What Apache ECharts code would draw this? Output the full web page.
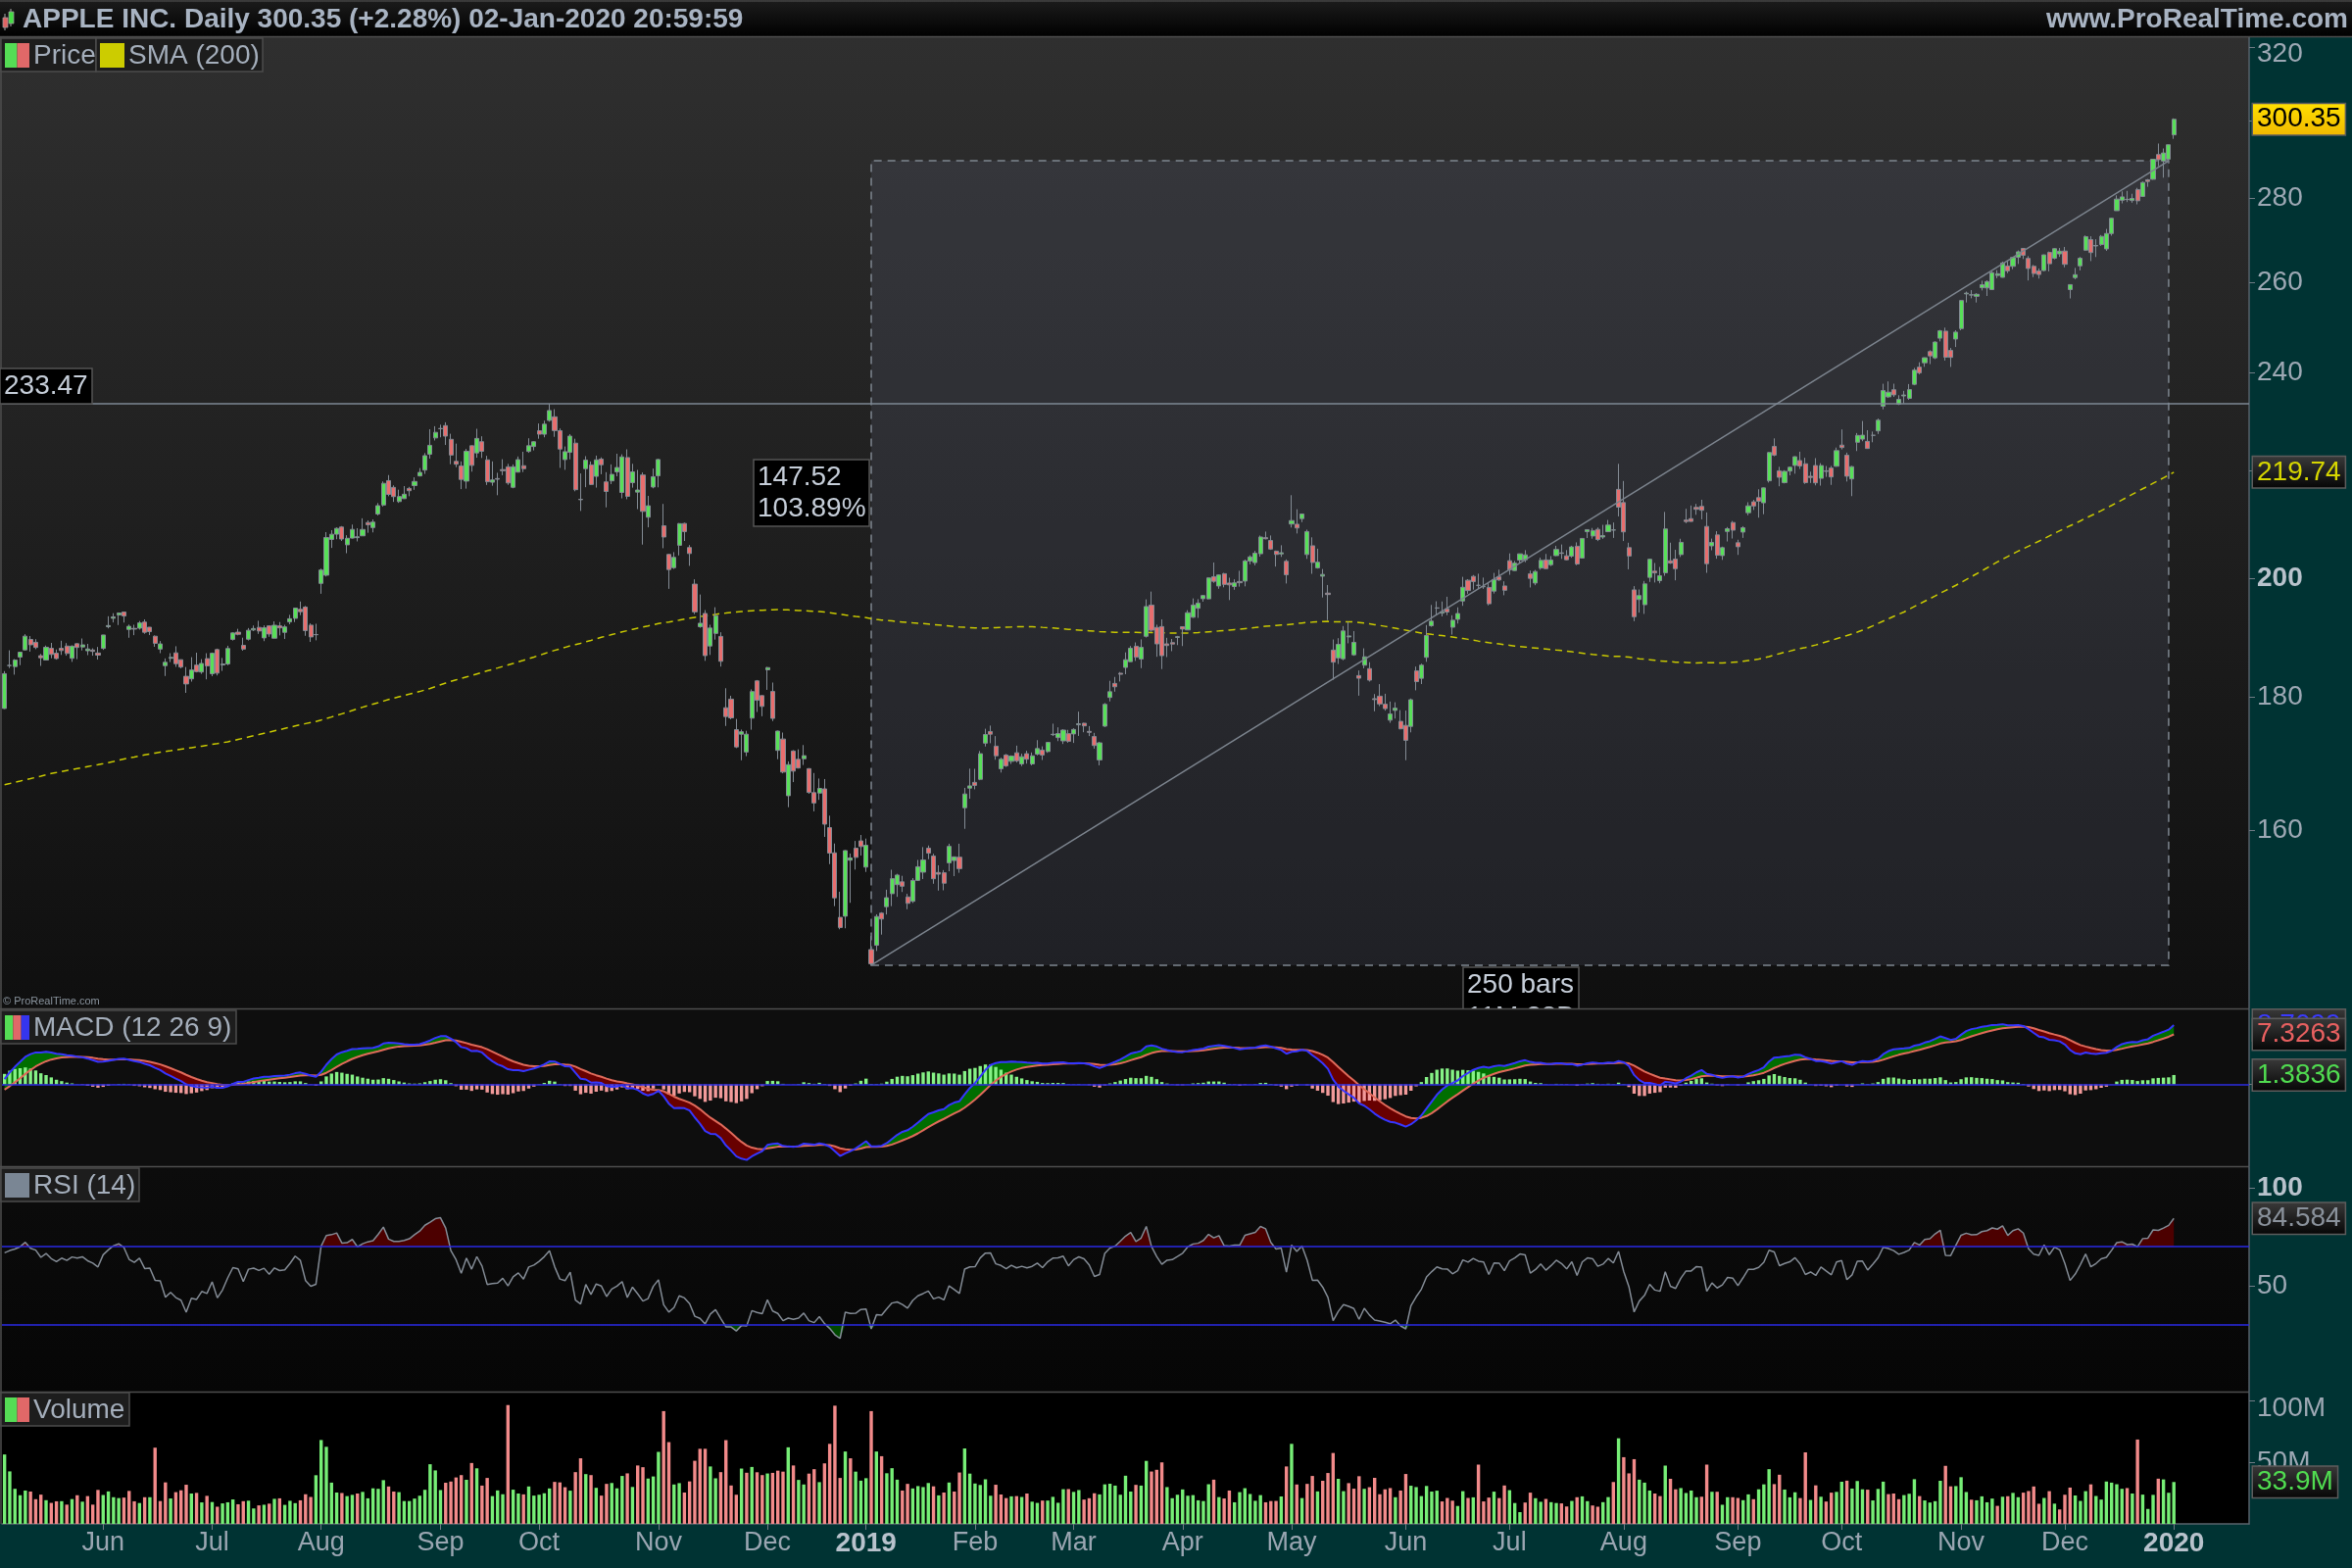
<!DOCTYPE html>
<html><head><meta charset="utf-8">
<script src="https://cdn.jsdelivr.net/npm/echarts@6/dist/echarts.min.js"></script>
<style>html,body{margin:0;padding:0;background:#003333;}#c{width:2400px;height:1600px;}</style>
</head><body><div id="c"></div>
<script>
// ---- closes before the visible window (20-Jul-2017 .. 03-May-2018), used to warm up SMA/MACD/RSI
const preClose = [
150.34,150.27,152.09,152.74,153.46,150.56,149.50,148.73,
150.05,157.14,155.57,156.39,158.81,160.08,161.06,155.32,157.48,159.85,161.60,160.95,157.86,157.50,157.21,159.78,159.98,159.27,159.86,161.47,162.91,163.35,164.00,
164.05,162.08,161.91,161.26,158.63,161.50,160.86,159.65,158.28,159.88,158.67,158.73,156.07,153.39,151.89,150.55,153.14,154.23,153.28,154.12,
153.81,154.48,153.48,155.39,155.30,155.84,155.90,156.55,156.00,156.99,159.88,160.47,159.76,155.98,156.25,156.17,157.10,156.41,157.41,163.05,166.72,169.04,
166.89,168.11,172.50,174.25,174.81,176.24,175.88,174.67,173.97,171.34,169.08,171.10,170.15,169.98,173.14,174.96,174.97,174.09,173.07,169.48,171.85,
171.05,169.80,169.64,169.01,169.32,169.37,172.67,171.70,172.27,172.22,173.97,176.42,174.54,174.35,175.01,175.01,170.57,170.60,171.08,169.23,
172.26,172.23,173.03,175.00,174.35,174.33,174.29,175.28,177.09,176.19,179.10,179.26,178.46,177.00,177.04,174.22,171.11,171.51,167.96,166.97,167.43,
167.78,160.50,156.49,163.03,159.54,155.15,156.41,162.71,164.34,167.37,172.99,172.43,171.85,171.07,172.50,175.50,178.97,178.39,178.12,
175.00,176.21,176.82,176.67,175.03,176.94,179.98,181.72,179.97,178.44,178.65,178.02,175.30,175.24,171.27,168.85,164.94,172.77,168.34,166.48,167.78,
166.68,168.39,171.61,172.80,168.38,170.05,173.25,172.44,174.14,174.73,175.82,178.24,177.84,172.80,165.72,165.24,162.94,163.65,164.22,162.32,165.26,
169.10,176.57,176.89
];
// ---- visible daily bars 04-May-2018 .. 02-Jan-2020
const openPx = [
178.25,185.18,184.99,186.55,187.74,189.49,189.01,186.78,186.07,188.00,187.19,188.00,188.38,186.35,188.77,188.23,187.60,187.72,187.22,
187.99,191.64,193.07,193.63,194.14,191.17,191.35,191.39,192.42,191.55,190.03,187.88,185.14,186.35,187.25,186.12,183.40,182.99,185.23,184.10,186.29,
183.82,187.79,185.26,185.42,189.50,190.71,188.50,189.53,191.08,191.52,189.75,191.78,189.69,191.78,190.68,192.45,193.06,194.61,194.99,191.90,190.30,
199.13,200.58,207.03,208.00,209.32,206.05,207.28,207.36,207.70,210.16,209.22,211.75,213.44,218.10,216.80,214.10,214.65,216.60,217.15,219.01,220.15,223.25,226.51,
228.41,228.99,226.23,221.85,220.95,218.01,224.94,223.52,225.75,222.15,217.79,218.50,220.24,220.78,216.82,219.75,221.00,223.82,224.79,
227.95,227.25,230.05,230.78,227.96,222.21,223.64,225.46,214.52,220.42,221.16,218.93,222.30,217.86,218.06,219.79,215.83,222.60,217.71,215.90,219.19,211.15,216.88,
219.05,209.55,204.30,201.92,205.97,209.98,205.55,199.00,191.63,193.90,188.39,190.50,190.00,178.37,179.73,174.94,174.24,171.51,176.73,182.66,180.29,
184.46,180.95,171.76,173.49,165.00,171.66,170.40,170.49,169.00,165.45,165.38,166.00,160.40,156.86,148.15,148.30,155.84,157.50,158.53,
154.89,143.98,144.53,148.70,149.56,151.29,152.50,152.88,150.85,150.27,153.08,154.20,157.50,156.41,154.15,154.11,155.48,155.79,156.25,163.25,166.11,
166.96,167.41,172.86,174.65,172.40,168.99,171.05,170.10,171.39,169.71,171.25,169.71,171.19,171.80,171.58,174.16,173.71,173.21,174.32,
174.28,175.69,175.94,174.67,173.87,170.32,175.49,180.00,182.25,183.90,184.85,185.80,188.35,186.23,190.02,195.34,191.51,191.66,188.75,188.95,189.83,
191.64,191.09,193.25,194.79,196.45,196.42,200.32,198.68,200.85,199.20,198.58,199.46,199.54,203.12,202.83,204.43,207.36,206.83,204.90,204.40,203.06,
209.88,209.84,210.89,204.29,205.88,201.90,200.40,197.42,187.71,186.41,186.27,189.91,186.93,183.52,185.22,184.66,179.80,180.20,178.92,176.42,177.95,176.23,
175.60,175.44,184.28,183.08,186.51,191.81,194.86,193.95,194.70,191.55,192.90,196.05,199.68,200.37,198.80,198.54,198.43,197.77,200.29,198.68,
203.17,201.41,203.28,203.35,200.81,199.20,201.85,203.31,202.45,204.09,204.59,204.05,204.00,205.79,203.65,208.46,207.67,208.89,207.48,208.46,208.76,216.42,
213.90,205.53,197.99,196.31,195.41,200.20,201.30,199.62,201.02,203.16,203.46,204.28,210.62,210.88,212.99,213.19,209.43,205.86,207.86,204.10,208.50,210.16,
206.43,208.39,212.00,214.05,214.84,213.86,218.07,224.80,220.00,217.73,219.96,221.06,222.01,221.38,218.95,221.03,218.55,220.00,220.54,220.90,
225.07,223.06,218.43,225.64,226.27,225.82,227.03,227.93,232.95,234.90,236.39,233.37,235.09,234.59,237.52,241.16,242.10,244.51,243.16,247.42,248.97,244.76,247.24,
249.54,257.33,257.05,256.77,258.74,258.69,258.30,261.55,261.13,263.75,263.68,265.80,267.90,265.54,263.69,262.59,262.71,266.94,265.58,266.60,
267.27,258.31,261.07,263.79,267.48,270.00,268.60,268.81,267.78,271.46,277.00,279.57,279.80,279.50,282.23,280.53,284.69,284.82,291.12,289.46,289.93,
296.24
];
const highPx = [
184.25,187.67,186.22,187.40,190.37,190.06,189.53,187.07,188.46,188.91,187.81,189.27,188.88,188.50,188.84,189.65,188.75,188.00,188.23,
190.26,193.42,193.94,194.08,194.20,192.00,191.97,192.61,192.88,191.57,190.16,189.22,186.33,187.20,188.35,186.15,184.92,186.53,187.28,186.21,187.19,
187.30,187.95,186.41,188.43,190.68,191.28,189.78,191.41,191.84,192.65,191.87,191.80,192.55,192.43,191.96,193.66,194.85,195.96,195.19,192.20,192.14,
201.76,208.38,208.74,209.25,209.50,207.81,209.78,209.10,210.95,210.56,210.74,213.81,217.95,219.18,217.19,216.36,217.05,216.90,218.74,220.54,223.49,228.26,228.87,
229.18,229.67,227.35,225.37,221.85,224.30,225.00,228.35,226.84,222.95,221.85,219.62,222.28,221.36,221.26,222.82,223.75,226.44,225.84,
229.42,230.00,233.47,232.35,228.41,224.80,227.27,226.35,219.50,222.88,221.83,222.99,222.64,219.74,221.26,223.36,223.25,224.23,221.38,220.19,219.69,215.18,220.45,
222.36,213.65,204.39,204.72,210.06,210.12,206.01,199.85,197.18,194.48,191.97,194.97,190.70,181.47,180.27,176.60,174.95,174.77,181.29,182.80,180.33,
184.94,182.39,174.78,174.49,170.09,171.79,171.92,172.57,169.08,168.35,167.53,167.45,162.11,158.16,151.55,157.23,156.77,158.52,159.36,
158.85,145.72,148.55,148.83,151.82,154.53,153.97,153.70,151.27,153.39,155.88,157.66,157.88,156.73,155.14,154.48,158.13,156.33,158.13,166.15,169.00,
168.98,171.66,175.08,175.57,173.94,170.66,171.21,171.00,172.48,171.26,171.70,171.44,173.32,172.37,173.00,175.87,175.30,175.00,174.91,
175.15,177.75,176.00,175.49,174.44,173.07,179.12,182.67,183.30,184.10,187.33,188.39,188.99,189.49,196.33,197.69,191.98,192.88,189.76,189.56,190.08,
191.68,194.46,196.50,196.37,197.10,200.23,202.85,200.74,201.00,200.14,199.85,201.37,203.38,204.15,204.94,207.75,208.48,207.76,205.00,205.97,203.40,
215.31,212.65,211.84,208.84,207.42,205.34,201.68,198.85,189.48,189.70,191.75,192.47,190.90,184.35,188.00,185.71,180.54,182.14,180.59,179.35,179.23,177.99,
177.92,179.83,184.99,185.47,191.92,195.37,196.00,195.97,196.79,193.59,194.96,200.29,199.88,200.61,200.85,200.16,199.26,200.99,201.57,199.50,
204.49,203.13,204.44,205.08,201.40,201.51,203.73,204.39,204.00,205.87,206.11,205.09,205.88,206.50,207.23,208.91,209.15,209.24,209.73,210.64,210.16,221.37,
218.03,206.43,198.65,198.07,199.56,203.53,202.76,202.05,212.14,206.44,205.14,207.16,212.73,213.35,213.65,214.44,212.05,207.19,208.55,205.72,209.32,210.45,
206.98,209.48,213.97,214.42,216.44,216.78,223.71,226.42,220.79,220.13,220.82,222.85,223.76,222.56,219.84,222.49,221.50,220.94,220.96,224.58,
228.22,223.58,220.96,227.49,229.93,228.06,227.79,230.44,237.64,238.13,237.65,235.24,236.15,237.58,240.99,242.20,243.24,244.80,246.73,249.25,249.75,245.30,249.17,
255.93,257.85,258.19,257.49,260.35,260.44,262.47,262.79,264.78,264.88,265.78,267.43,268.00,266.08,264.01,263.18,266.44,267.16,267.98,268.00,
268.25,259.53,263.31,265.89,271.00,270.80,270.07,271.10,272.56,275.30,280.79,281.77,281.90,281.18,282.65,284.25,284.89,289.98,293.97,292.69,293.68,
300.60
];
const lowPx = [
178.17,184.75,183.67,185.22,187.65,187.45,187.86,185.10,186.00,186.36,186.13,186.91,186.78,185.76,186.21,187.65,186.87,186.78,186.14,
187.75,191.35,192.36,191.92,192.34,189.77,190.21,191.15,190.44,190.22,188.26,187.20,183.45,185.73,184.94,184.70,180.73,182.54,184.03,183.80,182.91,
183.42,183.54,184.28,185.20,189.30,190.18,187.61,189.31,190.90,190.42,189.20,189.93,189.69,190.17,189.56,192.05,192.43,193.61,190.10,189.07,189.34,
197.31,200.35,205.48,207.07,206.76,204.52,207.20,206.67,207.70,208.26,208.33,211.47,213.16,215.11,214.03,213.84,214.60,215.11,216.33,218.92,219.41,222.40,226.00,
226.63,225.10,221.30,220.71,216.47,216.56,219.84,222.57,222.52,217.27,217.12,215.30,219.15,217.29,216.63,219.70,219.76,223.54,224.02,
226.35,226.63,229.78,226.73,220.58,220.20,222.25,216.05,212.32,216.84,217.27,216.76,219.34,213.00,217.43,218.94,214.70,214.54,216.75,212.67,206.09,209.27,216.62,
216.81,205.43,198.17,201.69,204.13,206.75,202.25,193.79,191.45,185.93,186.90,189.46,184.99,175.51,176.55,172.10,170.26,170.88,174.93,177.70,177.03,
181.21,176.27,170.42,168.30,163.33,167.00,169.02,169.55,165.28,162.73,164.39,159.09,155.30,149.63,146.59,146.72,150.07,154.55,156.48,
154.23,142.00,143.80,145.90,148.52,149.63,150.86,151.51,149.22,150.05,153.00,153.26,155.98,152.62,151.70,151.74,154.32,153.66,154.11,160.23,164.56,
165.93,167.28,172.35,172.85,170.34,168.42,169.25,169.70,169.92,169.38,169.75,169.49,170.99,170.30,171.38,173.95,173.17,172.73,172.92,
172.89,173.97,174.54,173.94,172.02,169.50,175.35,179.37,180.92,182.56,183.74,185.79,185.92,184.73,189.81,190.78,186.60,184.58,186.55,187.53,188.54,
188.38,191.05,193.15,193.14,195.93,196.34,199.23,198.18,198.44,196.21,198.01,198.56,198.61,202.52,202.34,203.90,207.05,205.12,202.12,203.86,199.11,
209.23,208.13,210.23,203.50,200.83,201.75,196.66,192.77,182.85,185.41,186.02,188.84,186.76,180.28,184.70,182.55,177.81,178.62,177.91,176.00,176.67,174.99,
170.27,174.52,181.14,182.15,185.77,191.62,193.60,193.39,193.60,190.30,192.17,195.21,197.31,198.03,198.15,198.17,195.29,197.35,199.57,197.05,
200.65,201.36,202.69,202.90,198.41,198.81,201.56,201.71,202.20,204.00,203.50,203.27,203.70,202.36,203.61,207.29,207.17,206.73,207.14,208.44,207.31,211.30,
206.74,201.63,192.58,194.04,193.82,199.39,199.29,199.15,200.48,202.59,199.67,203.84,210.03,210.32,211.60,210.75,201.00,205.06,203.53,203.32,206.66,207.20,
204.22,207.32,211.51,212.51,211.07,211.71,217.73,222.86,217.02,217.56,219.12,219.44,220.37,217.47,217.65,217.19,217.14,218.83,217.28,220.79,
224.20,217.93,215.13,223.89,225.84,224.33,225.64,227.30,232.31,234.67,234.88,233.20,233.52,234.29,237.32,239.62,241.22,241.81,242.88,246.72,242.57,241.21,245.50,
249.16,255.38,256.32,255.37,258.11,256.85,258.28,260.92,261.07,262.10,263.01,264.23,265.39,260.40,261.18,260.84,262.52,262.50,265.31,265.90,
263.45,256.29,260.68,262.73,267.30,264.91,265.86,268.50,267.32,270.93,276.98,278.80,279.12,278.95,278.56,280.37,282.92,284.70,288.12,285.22,289.52,
295.19
];
const closePx = [
183.83,185.16,186.05,187.36,190.04,188.59,188.15,186.44,188.18,186.99,186.31,187.63,187.16,188.36,188.15,188.58,187.90,187.50,186.87,
190.24,191.83,193.31,193.98,193.46,191.70,191.23,192.28,190.70,190.80,188.84,188.74,185.69,186.50,185.46,184.92,182.17,184.43,184.16,185.50,185.11,
187.18,183.92,185.40,187.97,190.58,190.35,187.88,191.03,191.33,190.91,191.45,190.40,191.88,191.44,191.61,193.00,194.82,194.21,190.98,189.91,190.29,
201.50,207.39,207.99,209.07,207.11,207.25,208.88,207.53,208.87,209.75,210.24,213.32,217.58,215.46,215.04,215.05,215.49,216.16,217.94,219.70,222.98,225.03,227.63,
228.36,226.87,223.10,221.30,218.33,223.85,221.07,226.41,223.84,217.88,218.24,218.37,220.03,217.66,220.79,222.19,220.42,224.95,225.74,
227.26,229.28,232.07,227.99,224.29,223.77,226.87,216.36,214.45,222.11,217.36,222.15,221.19,216.02,219.31,220.65,222.73,215.09,219.80,216.30,212.24,213.30,218.86,
222.22,207.48,201.59,203.77,209.95,208.49,204.47,194.17,192.23,186.80,191.41,193.53,185.86,176.98,176.78,172.29,174.62,174.24,180.94,179.55,178.58,
184.82,176.69,174.72,168.49,169.60,168.63,169.10,170.95,165.48,163.94,166.07,160.89,156.83,150.73,146.83,157.17,156.15,156.23,157.74,
157.92,142.19,148.26,147.93,150.75,153.31,153.80,152.29,150.00,153.07,154.94,155.86,156.82,153.30,153.92,152.70,157.76,156.30,154.68,165.25,166.44,
166.52,171.25,174.18,174.24,170.94,170.41,169.43,170.89,170.18,170.80,170.42,170.93,172.03,171.06,172.97,174.23,174.33,174.87,173.15,
174.97,175.85,175.53,174.52,172.50,172.91,178.90,180.91,181.71,183.73,186.12,188.02,186.53,188.16,195.09,191.05,188.74,186.79,188.47,188.72,189.95,
191.24,194.02,195.35,195.69,197.00,200.10,199.50,200.62,198.95,198.87,199.23,199.25,203.13,203.86,204.53,207.48,207.16,205.28,204.30,204.61,200.67,
210.52,209.15,211.75,208.48,202.86,202.90,200.72,197.18,185.72,188.66,190.92,190.08,189.00,183.09,186.60,182.78,179.66,178.97,178.23,177.38,178.30,175.07,
173.30,179.64,182.54,185.22,190.15,192.58,194.81,194.19,194.15,192.74,193.89,198.45,197.87,199.46,198.78,198.58,195.57,199.80,199.74,197.92,
201.55,202.73,204.41,204.23,200.02,201.24,203.23,201.75,203.30,205.21,204.50,203.35,205.66,202.59,207.22,208.84,208.67,207.02,207.74,209.68,208.78,213.04,
208.43,204.02,193.34,197.00,199.04,203.43,200.99,200.48,208.97,202.75,201.74,206.50,210.35,210.36,212.64,212.46,202.64,206.49,204.16,205.53,209.01,208.74,
205.70,209.19,213.28,213.26,214.17,216.70,223.59,223.09,218.75,219.90,220.70,222.77,220.96,217.73,218.72,217.68,221.03,219.89,218.82,223.97,
224.59,218.96,220.82,227.01,227.06,224.40,227.03,230.09,236.21,235.87,235.32,234.37,235.28,236.41,240.51,239.96,243.18,243.58,246.58,249.05,243.29,243.26,248.76,
255.82,257.50,257.13,257.24,259.43,260.14,262.20,261.96,264.47,262.64,265.76,267.10,266.29,263.19,262.01,261.78,266.37,264.29,267.84,267.25,
264.16,259.45,261.74,265.58,270.71,266.92,268.48,270.77,271.46,275.15,279.86,280.41,279.74,280.02,279.44,284.00,284.27,289.91,289.80,291.52,293.65,
300.35
];
const volumeM = [
56.2,42.5,28.4,23.2,27.0,26.2,20.0,23.7,19.2,17.0,18.3,18.4,15.6,20.1,23.2,18.0,22.5,15.6,27.5,
23.4,26.3,21.6,20.9,21.3,26.7,18.3,16.9,21.6,21.6,61.7,18.5,33.6,20.6,25.7,27.2,31.7,24.6,25.1,17.4,22.7,
17.7,13.9,16.6,17.5,19.8,15.9,18.4,18.8,12.5,15.0,15.5,16.4,20.3,20.7,15.4,18.7,16.8,19.1,24.0,21.8,39.4,
67.9,62.4,33.4,25.4,25.0,22.5,23.5,24.6,25.9,20.7,28.8,28.4,35.4,30.3,26.2,25.7,18.5,18.5,20.5,22.8,27.6,48.3,43.3,
27.4,33.3,34.3,37.6,39.5,35.7,49.3,45.0,31.0,37.2,22.5,27.1,24.0,96.2,27.7,24.6,23.9,30.3,22.9,
23.6,24.8,28.7,34.0,33.6,29.7,26.9,41.9,53.1,40.3,39.5,29.2,22.9,32.4,33.1,28.8,38.8,40.9,29.9,47.3,45.9,36.7,38.4,
58.3,91.3,66.2,31.9,33.0,25.4,34.4,51.1,60.8,60.8,46.5,36.9,41.9,67.8,31.1,23.6,44.8,41.4,46.1,41.8,39.5,
40.8,41.3,43.1,42.3,62.0,47.3,35.6,31.9,40.7,44.3,33.8,49.0,64.8,95.7,37.2,58.6,53.1,42.3,35.0,
37.0,91.3,58.6,54.8,41.0,45.1,35.8,27.0,32.4,28.7,30.6,29.8,33.1,30.4,23.1,25.4,33.5,26.2,41.6,61.1,40.7,
32.7,31.5,36.1,22.8,31.7,23.8,20.9,22.3,22.5,21.8,24.6,18.0,17.0,18.9,18.9,21.9,17.1,28.1,28.2,
25.9,27.4,19.7,20.8,24.8,23.9,32.0,32.5,31.0,23.6,39.0,26.2,31.6,31.0,51.0,42.4,43.8,49.8,29.8,20.8,23.6,
27.9,22.8,23.3,19.1,18.5,32.1,35.8,21.7,20.6,27.0,17.5,25.7,28.9,24.2,18.7,23.3,17.5,18.5,18.6,22.2,46.5,
64.8,31.9,20.9,32.4,38.8,26.3,34.9,41.2,57.4,36.5,26.5,33.0,28.5,38.6,28.4,29.7,37.3,24.0,28.0,29.0,21.6,27.0,
40.4,30.9,29.8,22.5,30.7,26.2,26.9,18.2,21.0,18.8,14.5,26.5,21.0,21.5,48.0,18.2,21.3,26.1,20.9,31.1,
27.3,16.9,9.5,17.3,25.3,20.8,17.9,20.2,17.6,16.9,16.6,14.1,18.6,21.6,22.3,18.4,14.9,13.9,17.6,21.7,33.9,69.3,
54.0,40.9,52.4,35.8,33.4,27.0,24.6,22.5,47.2,36.5,28.0,29.0,25.0,27.0,21.6,22.0,48.0,26.0,26.0,15.5,21.6,21.6,
21.0,19.2,23.9,20.0,28.0,32.0,44.3,32.2,39.8,27.8,21.5,25.6,20.9,57.9,19.4,31.2,22.0,18.1,25.3,25.9,
34.1,35.0,28.6,34.7,28.0,27.7,19.0,28.3,34.2,24.1,24.6,20.0,23.3,24.4,36.2,22.5,19.0,17.3,18.4,34.9,47.0,30.4,30.6,
37.8,25.8,19.6,19.1,22.3,17.5,20.5,14.6,22.0,22.4,25.1,21.6,25.3,26.6,30.3,16.3,21.0,26.5,16.4,11.7,
23.6,29.4,23.0,18.6,26.5,32.0,22.6,19.7,34.3,33.4,32.1,28.4,29.0,24.6,68.3,23.7,12.1,23.5,36.6,36.0,25.2,
33.9
];
// first trading day of each month -> x-axis label
const monthTicks = [[19,'Jun'],[40,'Jul'],[61,'Aug'],[84,'Sep'],[103,'Oct'],[126,'Nov'],[147,'Dec'],[166,'2019'],
 [187,'Feb'],[206,'Mar'],[227,'Apr'],[248,'May'],[270,'Jun'],[290,'Jul'],[312,'Aug'],[334,'Sep'],[354,'Oct'],[377,'Nov'],[397,'Dec'],[418,'2020']];
const priceTicks = [160,180,200,220,240,260,280,300,320];
const rsiTicks = [50,100];
const volTicks = [50,100];
const macdTicks = [0];
// drawing annotations
const boxStart = {idx:167, price:142.00};
const boxEnd = {idx:417, price:289.52};
const hLevel = 233.47;
const lastLabels = {price:'300.35', priceV:300.35, sma:'219.74', smaV:219.74, macd:'8.7099', macdV:8.7099,
  sig:'7.3263', sigV:7.3263, hist:'1.3836', histV:1.3836, rsi:'84.584', rsiV:84.584, vol:'33.9M', volV:33.9};
const totalSlots = 433;

// ---------- indicators ----------
const allC = preClose.concat(closePx);
const P = preClose.length;
function ema(a, n){ const k = 2/(n+1); const o=[]; let e=a[0]; for(let i=0;i<a.length;i++){ e = i===0 ? a[0] : a[i]*k + e*(1-k); o.push(e);} return o; }
const e12 = ema(allC,12), e26 = ema(allC,26);
const macdAll = allC.map((v,i)=>e12[i]-e26[i]);
const sigAll = ema(macdAll,9);
const macd = macdAll.slice(P), sig = sigAll.slice(P);
const hist = macd.map((v,i)=>v-sig[i]);
const sma = closePx.map((c,i)=>{ let s=0; for(let j=P+i-199;j<=P+i;j++) s+=allC[j]; return s/200; });
const rsiAll = new Array(allC.length).fill(null);
(function(){ let ag=0, al=0; for(let i=1;i<=14;i++){ const ch=allC[i]-allC[i-1]; ag+=Math.max(ch,0); al+=Math.max(-ch,0);} ag/=14; al/=14;
 rsiAll[14] = 100 - 100/(1+ag/al);
 for(let i=15;i<allC.length;i++){ const ch=allC[i]-allC[i-1]; ag=(ag*13+Math.max(ch,0))/14; al=(al*13+Math.max(-ch,0))/14; rsiAll[i] = al===0?100:100-100/(1+ag/al);} })();
const rsi = rsiAll.slice(P);

const cats = []; for(let i=0;i<totalSlots;i++) cats.push(String(i));
const tickMap = {}; monthTicks.forEach(t=>tickMap[t[0]]=t[1]);

const candles = closePx.map((c,i)=>[openPx[i], c, Math.min(lowPx[i],openPx[i],c), Math.max(highPx[i],openPx[i],c)]);
const volData = volumeM.map((v,i)=>{ const prev = i===0 ? preClose[P-1] : closePx[i-1];
  return {value:v, itemStyle:{color: closePx[i]>=prev ? '#76ee76' : '#f28a8a'}}; });
const histData = hist.map(v=>({value:v, itemStyle:{color: v>=0 ? '#86f286' : '#f29a9a'}}));

// ---------- layout ----------
const GL=2, GRR=105, PRX=2400-GRR;
const G = [ {top:38,height:991}, {top:1030,height:160}, {top:1191,height:229}, {top:1421,height:134} ];
const FONT = '"Liberation Sans", Arial, sans-serif';
const TXT = '#a4aebb';

function xAx(gi, show){
  return { type:'category', gridIndex:gi, data:cats, boundaryGap:true,
    axisLine:{show:show, lineStyle:{color:'#5a646c', width:1.5}},
    axisTick:{show:show, alignWithLabel:true, interval:(i)=>tickMap[i]!==undefined, length:6, lineStyle:{color:'#6f7a84'}},
    axisLabel:{show:show, interval:(i)=>tickMap[i]!==undefined, margin:6, color:'#9aa6b2', fontSize:27, fontFamily:FONT,
      formatter:(v,i)=>{ const t=tickMap[i]; if(t===undefined) return ''; return /^\d{4}$/.test(t) ? '{y|'+t+'}' : t; },
      rich:{y:{fontWeight:'bold', color:'#b8c2cc', fontSize:28, fontFamily:FONT}} },
    splitLine:{show:false} };
}
function yAx(gi, extra){
  return Object.assign({ gridIndex:gi, position:'right', scale:true,
    axisLine:{show:true, lineStyle:{color:'#56606a', width:1.5}},
    splitLine:{show:false} }, extra);
}
const grad = (a,b)=>new echarts.graphic.LinearGradient(0,0,0,1,[{offset:0,color:a},{offset:1,color:b}]);
function lbl(fmt, color, bg){
  return { show:true, position:'end', distance:4, formatter:fmt, color:color, opacity:1, fontSize:28, fontFamily:FONT,
    backgroundColor: bg || grad('#3a3a3a','#050505'),
    borderColor:'#5c5c5c', borderWidth:1.5, padding:[2,4,1,4], lineHeight:28 };
}
function valLine(axisVal, label){
  return { yAxis:axisVal, lineStyle:{color:'rgba(0,0,0,0)', width:0.01, opacity:1}, label:label };
}
const hiddenLine = {symbol:['none','none'], silent:true, animation:false};

const labelBox = (x,y,w,h,lines,z)=>({ type:'group', z:z, silent:true, children:[
  {type:'rect', z:z, shape:{x:x,y:y,width:w,height:h}, style:{fill:'#000', stroke:'#545454', lineWidth:1.5}},
  ...lines.map((t,k)=>({type:'text', z:z, x:x+4, y:y+18+k*32, style:{text:t, fill:'#c6ced9', font:'28px '+FONT, textVerticalAlign:'middle', verticalAlign:'middle'}}))
]});
function legend(x,y,cells){
  const ch=[]; let cx=x;
  cells.forEach(c=>{
    ch.push({type:'rect', z:20, shape:{x:cx,y:y,width:c.w,height:34}, style:{fill:'#1d1d1d', stroke:'#4c4c4c', lineWidth:1.5}});
    const sw = 25/c.colors.length;
    c.colors.forEach((col,k)=>ch.push({type:'rect', z:21, shape:{x:cx+4+k*sw, y:y+5, width:sw, height:25}, style:{fill:col}}));
    ch.push({type:'text', z:21, x:cx+33, y:y+18, style:{text:c.text, fill:TXT, font:'28px '+FONT, textVerticalAlign:'middle', verticalAlign:'middle'}});
    cx += c.w;
  });
  return {type:'group', silent:true, children:ch};
}

const graphics = [
  {type:'rect', z:-10, silent:true, shape:{x:0,y:G[0].top,width:PRX,height:G[0].height}, style:{fill:grad('#2f2f2f','#0f0f0f')}},
  {type:'group', z:-9, silent:true, children:[
    {type:'rect', z:-9, shape:{x:1493,y:987,width:118,height:70}, style:{fill:'#000', stroke:'#545454', lineWidth:1.5}},
    {type:'text', z:-9, x:1497, y:1005, style:{text:'250 bars', fill:'#c6ced9', font:'28px '+FONT, textVerticalAlign:'middle', verticalAlign:'middle'}},
    {type:'text', z:-9, x:1497, y:1038, style:{text:'11M 28D', fill:'#c6ced9', font:'28px '+FONT, textVerticalAlign:'middle', verticalAlign:'middle'}}
  ]},
  {type:'rect', z:-8, silent:true, shape:{x:0,y:G[1].top-1,width:PRX,height:G[1].height+1}, style:{fill:'#0e0e0e'}},
  {type:'rect', z:-8, silent:true, shape:{x:0,y:G[2].top,width:PRX,height:G[2].height}, style:{fill:grad('#0c0c0c','#060606')}},
  {type:'rect', z:-8, silent:true, shape:{x:0,y:G[3].top,width:PRX,height:G[3].height}, style:{fill:'#000'}},
  {type:'line', z:-7, silent:true, shape:{x1:0,y1:1029.5,x2:PRX,y2:1029.5}, style:{stroke:'#4e4e4e', lineWidth:1.5}},
  {type:'line', z:-7, silent:true, shape:{x1:0,y1:1190.5,x2:PRX,y2:1190.5}, style:{stroke:'#4e4e4e', lineWidth:1.5}},
  {type:'line', z:-7, silent:true, shape:{x1:0,y1:1420.5,x2:PRX,y2:1420.5}, style:{stroke:'#4e4e4e', lineWidth:1.5}},
  {type:'line', z:-7, silent:true, shape:{x1:1,y1:38,x2:1,y2:1555}, style:{stroke:'#4e4e4e', lineWidth:1.5}},
  // title bar
  {type:'rect', z:30, silent:true, shape:{x:0,y:0,width:2400,height:38}, style:{fill:grad('#1c1c1c','#000000')}},
  {type:'line', z:31, silent:true, shape:{x1:0,y1:1,x2:2400,y2:1}, style:{stroke:'#444', lineWidth:1.5}},
  {type:'line', z:31, silent:true, shape:{x1:0,y1:37.5,x2:2400,y2:37.5}, style:{stroke:'#4e4e4e', lineWidth:1.5}},
  {type:'line', z:31, silent:true, shape:{x1:5,y1:14,x2:5,y2:31}, style:{stroke:'#aaa', lineWidth:1}},
  {type:'rect', z:32, silent:true, shape:{x:3,y:18,width:5,height:10}, style:{fill:'#e06464', stroke:'#999', lineWidth:0.8}},
  {type:'line', z:31, silent:true, shape:{x1:11,y1:9,x2:11,y2:27}, style:{stroke:'#aaa', lineWidth:1}},
  {type:'rect', z:32, silent:true, shape:{x:9,y:12,width:5,height:12}, style:{fill:'#44dd44', stroke:'#999', lineWidth:0.8}},
  {type:'text', z:32, silent:true, x:23, y:20, style:{text:'APPLE INC. Daily 300.35 (+2.28%) 02-Jan-2020 20:59:59', fill:'#a8b3c2', font:'bold 28px '+FONT, textVerticalAlign:'middle', verticalAlign:'middle'}},
  {type:'text', z:32, silent:true, x:2396, y:20, style:{text:'www.ProRealTime.com', fill:'#a8b3c2', font:'bold 28px '+FONT, textAlign:'right', align:'right', textVerticalAlign:'middle', verticalAlign:'middle'}},
  // legends
  legend(1,39,[{w:97,colors:['#55dd55','#e06868'],text:'Price'},{w:170,colors:['#cccc00'],text:'SMA (200)'}]),
  legend(1,1031,[{w:240,colors:['#55dd55','#e06868','#3535ee'],text:'MACD (12 26 9)'}]),
  legend(1,1192,[{w:141,colors:['#7a8694'],text:'RSI (14)'}]),
  legend(1,1421,[{w:131,colors:['#55dd55','#e06868'],text:'Volume'}]),
  // annotations
  labelBox(769,469,118,68,['147.52','103.89%'],25),
  labelBox(0,376,94,36,['233.47'],25),
  {type:'text', z:25, silent:true, x:3, y:1022, style:{text:'\u00A9 ProRealTime.com', fill:'#8a949e', font:'11px '+FONT, textVerticalAlign:'middle', verticalAlign:'middle'}}
];

const option = {
  animation:false,
  backgroundColor:'#003333',
  grid: G.map(g=>({left:GL, right:GRR, top:g.top, height:g.height, containLabel:false})),
  xAxis: [xAx(0,false), xAx(1,false), xAx(2,false), xAx(3,true)],
  yAxis: [
    yAx(0,{type:'log', logBase:10, min:136.67, max:322.99,
      axisTick:{show:true, length:6, lineStyle:{color:'#6f7a84'}, customValues:priceTicks},
      axisLabel:{customValues:priceTicks, margin:8, color:'#9da8b4', fontSize:28, fontFamily:FONT,
        formatter:(v)=>{ v=Math.round(v); return v===200 ? '{b|200}' : (v===320 ? '{t|320}' : String(v)); },
        rich:{b:{fontWeight:'bold', color:'#b8c2cc', fontSize:28, fontFamily:FONT}, t:{padding:[14,0,0,0], color:'#9da8b4', fontSize:28, fontFamily:FONT}}}}),
    yAx(1,{type:'value', min:-11.97, max:10.99,
      axisTick:{show:true, length:6, lineStyle:{color:'#6f7a84'}, customValues:macdTicks},
      axisLabel:{customValues:macdTicks, margin:8, color:'#9da8b4', fontSize:28, fontFamily:FONT}}),
    yAx(2,{type:'value', min:-4.33, max:110.87,
      axisTick:{show:true, length:6, lineStyle:{color:'#6f7a84'}, customValues:rsiTicks},
      axisLabel:{customValues:rsiTicks, margin:8, color:'#9da8b4', fontSize:28, fontFamily:FONT,
        formatter:(v)=> v===100 ? '{b|100}' : String(v),
        rich:{b:{fontWeight:'bold', color:'#b8c2cc', fontSize:28, fontFamily:FONT}}}}),
    yAx(3,{type:'value', min:0, max:106.3,
      axisTick:{show:true, length:6, lineStyle:{color:'#6f7a84'}, customValues:volTicks},
      axisLabel:{customValues:volTicks, margin:8, color:'#9da8b4', fontSize:28, fontFamily:FONT,
        formatter:(v)=> v===100 ? '{t|100M}' : v+'M',
        rich:{t:{padding:[16,0,0,0], color:'#9da8b4', fontSize:28, fontFamily:FONT}}}})
  ],
  graphic:{elements:graphics},
  series: [
    { type:'candlestick', xAxisIndex:0, yAxisIndex:0, data:candles, barWidth:4.6, z:3, clip:false,
      itemStyle:{color:'#58e058', color0:'#e86e6e', borderColor:'#838b94', borderColor0:'#838b94', borderWidth:1},
      markArea:{silent:true, itemStyle:{color:'rgba(95,100,125,0.20)', borderColor:'#7e8690', borderWidth:1.5, borderType:[8,6]},
        data:[[{coord:[boxStart.idx, boxStart.price]},{coord:[boxEnd.idx, boxEnd.price]}]]},
      markLine:Object.assign({}, hiddenLine, {data:[
        [{coord:[boxStart.idx, boxStart.price], lineStyle:{color:'#7c848e', width:1.5, type:'solid'}, label:{show:false}},{coord:[boxEnd.idx, boxEnd.price]}],
        {yAxis:hLevel, lineStyle:{color:'#7e8894', width:1.5, type:'solid'}, label:{show:false}},
        valLine(lastLabels.priceV, lbl(lastLabels.price,'#000', grad('#ffe000','#f0b800')))
      ]}) },
    { type:'line', xAxisIndex:0, yAxisIndex:0, data:sma, symbol:'none', z:2, clip:false,
      lineStyle:{color:'#c8c800', width:1.5, type:[7,5]},
      markLine:Object.assign({}, hiddenLine, {data:[valLine(lastLabels.smaV, lbl(lastLabels.sma,'#d6d600'))]}) },
    // MACD
    { type:'bar', xAxisIndex:1, yAxisIndex:1, data:histData, barWidth:3.4, z:2,
      markLine:Object.assign({}, hiddenLine, {data:[{yAxis:0, lineStyle:{color:'#2c2ce0', width:1.5, type:'solid'}, label:{show:false}}]}) },
    { type:'line', xAxisIndex:1, yAxisIndex:1, data:macd.map((m,i)=>Math.min(m,sig[i])), stack:'mf', stackStrategy:'all',
      symbol:'none', lineStyle:{opacity:0}, z:2, clip:false,
      markLine:Object.assign({}, hiddenLine, {data:[valLine(lastLabels.macdV, lbl(lastLabels.macd,'#3a3aff'))]}) },
    { type:'line', xAxisIndex:1, yAxisIndex:1, data:macd.map((m,i)=>Math.max(m-sig[i],0)), stack:'mf', stackStrategy:'all',
      symbol:'none', lineStyle:{opacity:0}, areaStyle:{color:'#006e00', opacity:1}, z:2 },
    { type:'line', xAxisIndex:1, yAxisIndex:1, data:macd.map((m,i)=>Math.max(sig[i]-m,0)), stack:'mf', stackStrategy:'all',
      symbol:'none', lineStyle:{opacity:0}, areaStyle:{color:'#680000', opacity:1}, z:2 },
    { type:'line', xAxisIndex:1, yAxisIndex:1, data:sig, symbol:'none', z:3, clip:false, lineStyle:{color:'#e06a5a', width:2},
      markLine:Object.assign({}, hiddenLine, {data:[valLine(lastLabels.sigV, lbl(lastLabels.sig,'#e86060'))]}) },
    { type:'line', xAxisIndex:1, yAxisIndex:1, data:macd, symbol:'none', z:3, clip:false, lineStyle:{color:'#3636ff', width:2},
      markLine:Object.assign({}, hiddenLine, {data:[valLine(lastLabels.histV, lbl(lastLabels.hist,'#50dc50'))]}) },
    // RSI
    { type:'line', xAxisIndex:2, yAxisIndex:2, data:rsi.map(()=>70), stack:'ru', stackStrategy:'all', symbol:'none', lineStyle:{opacity:0}, z:2 },
    { type:'line', xAxisIndex:2, yAxisIndex:2, data:rsi.map(r=>Math.max(r-70,0)), stack:'ru', stackStrategy:'all', symbol:'none',
      lineStyle:{opacity:0}, areaStyle:{color:'#4c0000', opacity:1}, z:2 },
    { type:'line', xAxisIndex:2, yAxisIndex:2, data:rsi.map(r=>Math.min(r,30)), stack:'rd', stackStrategy:'all', symbol:'none', lineStyle:{opacity:0}, z:2 },
    { type:'line', xAxisIndex:2, yAxisIndex:2, data:rsi.map(r=>30-Math.min(r,30)), stack:'rd', stackStrategy:'all', symbol:'none',
      lineStyle:{opacity:0}, areaStyle:{color:'#004800', opacity:1}, z:2 },
    { type:'line', xAxisIndex:2, yAxisIndex:2, data:rsi, symbol:'none', z:3, clip:false, lineStyle:{color:'#848c96', width:1.5},
      markLine:Object.assign({}, hiddenLine, {data:[
        {yAxis:70, lineStyle:{color:'#2a2ae4', width:1.5, type:'solid'}, label:{show:false}},
        {yAxis:30, lineStyle:{color:'#2a2ae4', width:1.5, type:'solid'}, label:{show:false}},
        valLine(lastLabels.rsiV, lbl(lastLabels.rsi,'#8a929c'))]}) },
    // Volume
    { type:'bar', xAxisIndex:3, yAxisIndex:3, data:volData, barWidth:3.4, z:2, clip:false,
      markLine:Object.assign({}, hiddenLine, {data:[valLine(lastLabels.volV, lbl(lastLabels.vol,'#50dc50'))]}) }
  ]
};
const chart = echarts.init(document.getElementById('c'), null, {width:2400, height:1600});
chart.setOption(option);
</script>
</body></html>
